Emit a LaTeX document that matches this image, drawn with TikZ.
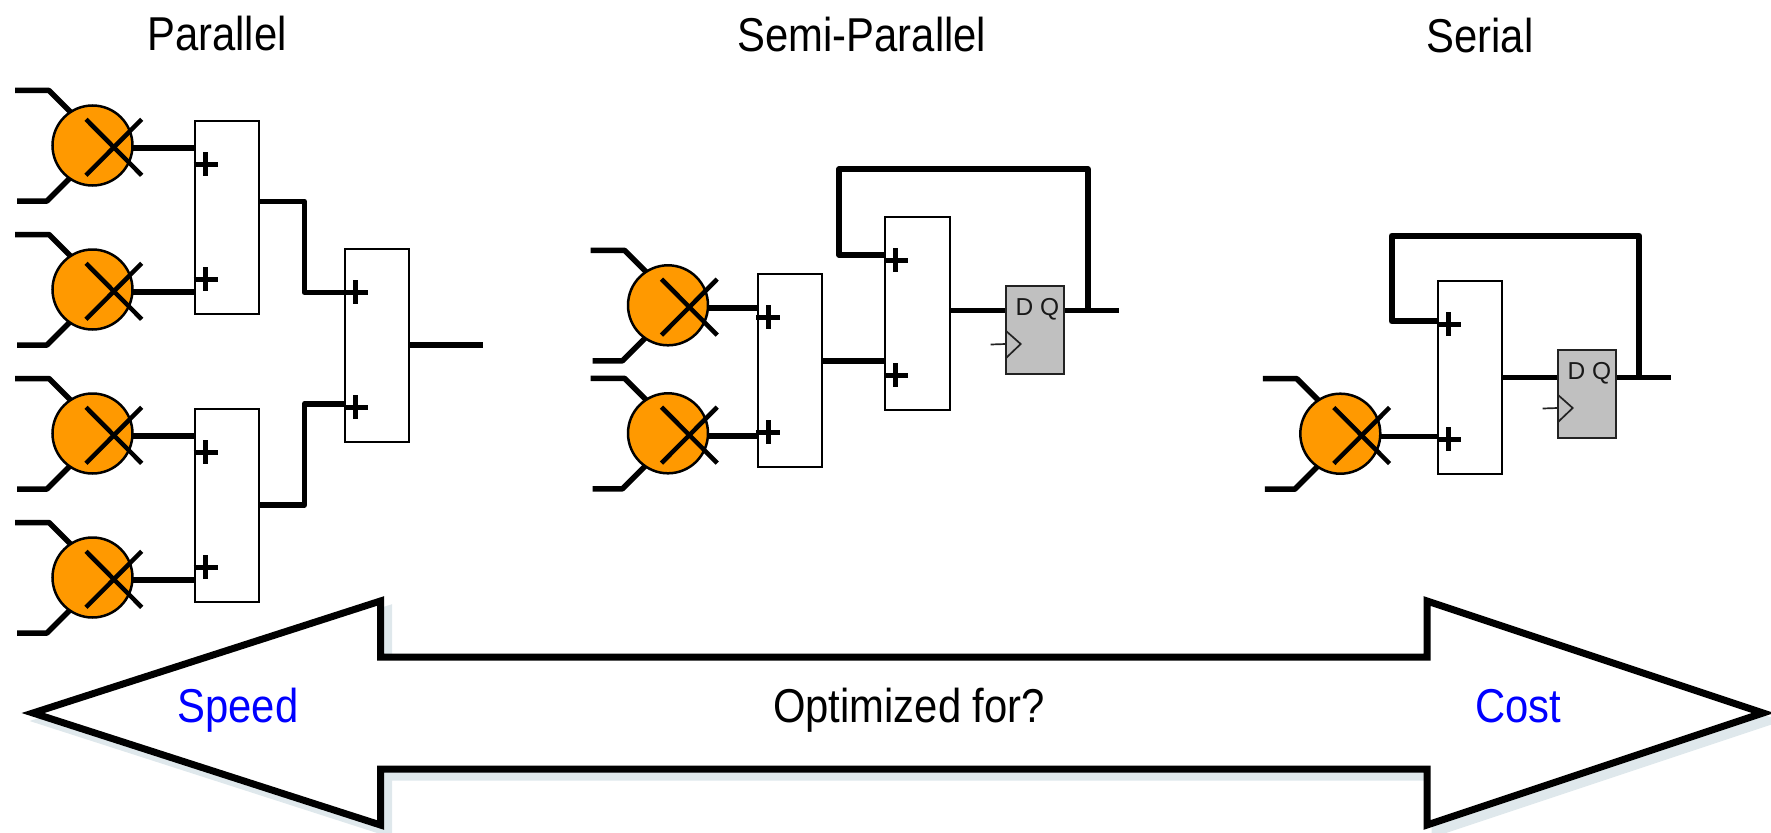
\documentclass[tikz,border=0pt]{standalone}
\usepackage{fontspec}
\setmainfont{Liberation Sans}
\newfontfamily\condfont[FakeStretch=0.88]{Liberation Sans}
\definecolor{multorange}{HTML}{FF9900}
\definecolor{regray}{HTML}{C0C0C0}
\definecolor{shadowblue}{HTML}{DFE8EC}
\definecolor{regline}{HTML}{222222}
\tikzset{
  wire/.style={line width=5.5pt,line join=round},
  fbwire/.style={line width=6pt,line join=round},
  crossline/.style={line width=4.5pt},
  plusline/.style={line width=5pt},
  multnode/.style={circle,draw=black,fill=multorange,line width=2.5pt,minimum size=80pt,inner sep=0pt,outer sep=0pt},
  addnode/.style={rectangle,draw=black,fill=white,line width=2pt,minimum width=64.4pt,minimum height=192.5pt,inner sep=0pt,outer sep=0pt,anchor=north west},
  regnode/.style={rectangle,draw=regline,fill=regray,line width=2pt,minimum width=58pt,minimum height=87.5pt,inner sep=0pt,outer sep=0pt,anchor=north west},
  clockline/.style={line width=1.7pt,draw=regline},
  title/.style={font=\condfont\fontsize{47.5pt}{50pt}\selectfont,anchor=base,inner sep=0pt},
  bluelabel/.style={title,text=blue},
  regtext/.style={font=\fontsize{24.5pt}{25pt}\selectfont,anchor=base,inner sep=0pt,text=black!90},
}
% multiplier: name, centre x, centre y
\newcommand\mulblock[3]{%
  \begin{scope}[shift={(#2,#3)}]
    \coordinate (#1-ta) at (-77.5,-55);
    \coordinate (#1-tb) at (-43.5,-55);
    \coordinate (#1-tc) at (-20,-31.5);
    \coordinate (#1-ba) at (-75.5,55.5);
    \coordinate (#1-bb) at (-45.5,55.5);
    \coordinate (#1-bc) at (-20,30);
    \coordinate (#1-out) at (40,2.7);
    \coordinate (#1-x1) at (-6.5,-26.2);
    \coordinate (#1-x2) at (49.2,29.8);
    \coordinate (#1-x3) at (-6.5,29.8);
    \coordinate (#1-x4) at (49.2,-26.2);
    \draw[wire] (#1-ta) -- (#1-tb) -- (#1-tc);
    \draw[wire] (#1-ba) -- (#1-bb) -- (#1-bc);
    \node[multnode] (#1) at (0,0) {};
    \draw[crossline] (#1-x1) -- (#1-x2);
    \draw[crossline] (#1-x3) -- (#1-x4);
  \end{scope}}
% adder: name, left x, top y
\newcommand\addblock[3]{%
  \node[addnode] (#1) at (#2,#3) {};
  \begin{scope}[shift={(#2,#3)}]
    \coordinate (#1-pa) at (-1.5,43.3);
    \coordinate (#1-pb) at (22.5,43.3);
    \coordinate (#1-pc) at (10.5,31.3);
    \coordinate (#1-pd) at (10.5,55.3);
    \coordinate (#1-qa) at (-1.5,158.3);
    \coordinate (#1-qb) at (22.5,158.3);
    \coordinate (#1-qc) at (10.5,146.3);
    \coordinate (#1-qd) at (10.5,170.3);
    \draw[plusline] (#1-pa) -- (#1-pb);
    \draw[plusline] (#1-pc) -- (#1-pd);
    \draw[plusline] (#1-qa) -- (#1-qb);
    \draw[plusline] (#1-qc) -- (#1-qd);
  \end{scope}}
% register: name, left x, top y
\newcommand\regblock[3]{%
  \node[regnode] (#1) at (#2,#3) {};
  \begin{scope}[shift={(#2,#3)}]
    \node[regtext] (#1-dq) at (31.8,29) {D Q};
    \coordinate (#1-ca) at (0,44.7);
    \coordinate (#1-cb) at (15,58);
    \coordinate (#1-cc) at (0,72.3);
    \coordinate (#1-cs) at (-15,58.5);
    \coordinate (#1-ce) at (0,58);
    \draw[clockline,line join=miter] (#1-ca) -- (#1-cb) -- (#1-cc);
    \draw[clockline] (#1-cs) -- (#1-ce);
  \end{scope}}
\begin{document}
\begin{tikzpicture}[x=1pt,y=-1pt]
\useasboundingbox (0,0) rectangle (1771,832);

% titles
\node[title] (tpar) at (217,51) {Parallel};
\node[title] (tsemi) at (862,52) {Semi-Parallel};
\node[title] (tser) at (1480,53) {Serial};

% ----- parallel
\mulblock{pm1}{92.5}{145.5}
\mulblock{pm2}{92.5}{289.5}
\mulblock{pm3}{92.5}{433.5}
\mulblock{pm4}{92.5}{577.5}
\coordinate (pa1-i1) at (195,148.2);
\coordinate (pa1-i2) at (195,292.2);
\coordinate (pa2-i1) at (195,436.2);
\coordinate (pa2-i2) at (195,580.2);
\draw[wire] (pm1-out) -- (pa1-i1);
\draw[wire] (pm2-out) -- (pa1-i2);
\draw[wire] (pm3-out) -- (pa2-i1);
\draw[wire] (pm4-out) -- (pa2-i2);
\coordinate (pa1-o) at (259,201.3);
\coordinate (pa1-k) at (304.3,201.3);
\coordinate (pa1-l) at (304.3,292.3);
\coordinate (pa3-i1) at (345,292.3);
\coordinate (pa2-o) at (259,505);
\coordinate (pa2-k) at (304.3,505);
\coordinate (pa2-l) at (304.3,404);
\coordinate (pa3-i2) at (345,404);
\coordinate (pa3-o) at (409,345);
\coordinate (pout) at (482.7,345);
\draw[wire] (pa1-o) -- (pa1-k) -- (pa1-l) -- (pa3-i1);
\draw[wire] (pa2-o) -- (pa2-k) -- (pa2-l) -- (pa3-i2);
\draw[wire] (pa3-o) -- (pout);
\addblock{pa1}{195}{121}
\addblock{pa2}{195}{409}
\addblock{pa3}{345}{249}

% ----- semi-parallel
\mulblock{sm1}{668}{305.3}
\mulblock{sm2}{668}{433.3}
\coordinate (sa1-i1) at (757.5,308);
\coordinate (sa1-i2) at (757.5,436);
\coordinate (sa1-o) at (821.9,361);
\coordinate (sa2-i2) at (885.4,361);
\coordinate (sa2-i1) at (885.4,254.7);
\coordinate (sa2-o) at (949.8,310.7);
\coordinate (sr-d) at (1005.7,310.7);
\coordinate (sr-q) at (1063.7,310.7);
\coordinate (sfb-j) at (1087.7,310.7);
\coordinate (sfb-a) at (1087.7,169.3);
\coordinate (sfb-b) at (839,169.3);
\coordinate (sfb-c) at (839,254.7);
\coordinate (sout) at (1119.3,310.7);
\draw[wire] (sm1-out) -- (sa1-i1);
\draw[wire] (sm2-out) -- (sa1-i2);
\draw[wire] (sa1-o) -- (sa2-i2);
\draw[wire] (sa2-o) -- (sr-d);
\draw[wire] (sr-q) -- (sout);
\draw[fbwire] (sfb-j) -- (sfb-a) -- (sfb-b) -- (sfb-c) -- (sa2-i1);
\addblock{sa1}{757.5}{274}
\addblock{sa2}{885.4}{217}
\regblock{sr}{1005.7}{286}

% ----- serial
\mulblock{rm1}{1340.3}{433.7}
\coordinate (ra-i2) at (1438,436.4);
\coordinate (ra-i1) at (1438,321.3);
\coordinate (ra-o) at (1502.4,377.3);
\coordinate (rr-d) at (1557.7,377.3);
\coordinate (rr-q) at (1615.7,377.3);
\coordinate (rfb-j) at (1639,377.3);
\coordinate (rfb-a) at (1639,235.7);
\coordinate (rfb-b) at (1391.7,235.7);
\coordinate (rfb-c) at (1391.7,321.3);
\coordinate (rout) at (1671,377.3);
\draw[wire] (rm1-out) -- (ra-i2);
\draw[wire] (ra-o) -- (rr-d);
\draw[wire] (rr-q) -- (rout);
\draw[fbwire] (rfb-j) -- (rfb-a) -- (rfb-b) -- (rfb-c) -- (ra-i1);
\addblock{ra}{1438}{281}
\regblock{rr}{1557.7}{350}

% ----- double arrow
\draw[draw=shadowblue,fill=shadowblue,line width=7pt,line join=miter,shift={(8,8)}]
  (33,713) -- (380.5,601) -- (380.5,657) -- (1427,657) -- (1427,601) -- (1763,713)
  -- (1427,825) -- (1427,769) -- (380.5,769) -- (380.5,825) -- cycle;
\draw[draw=black,fill=white,line width=7pt,line join=miter]
  (33,713) -- (380.5,601) -- (380.5,657) -- (1427,657) -- (1427,601) -- (1763,713)
  -- (1427,825) -- (1427,769) -- (380.5,769) -- (380.5,825) -- cycle;
\node[bluelabel] (lspeed) at (238,722) {Speed};
\node[title] (lopt) at (909,722) {Optimized for?};
\node[bluelabel] (lcost) at (1518,722) {Cost};
\end{tikzpicture}
\end{document}
